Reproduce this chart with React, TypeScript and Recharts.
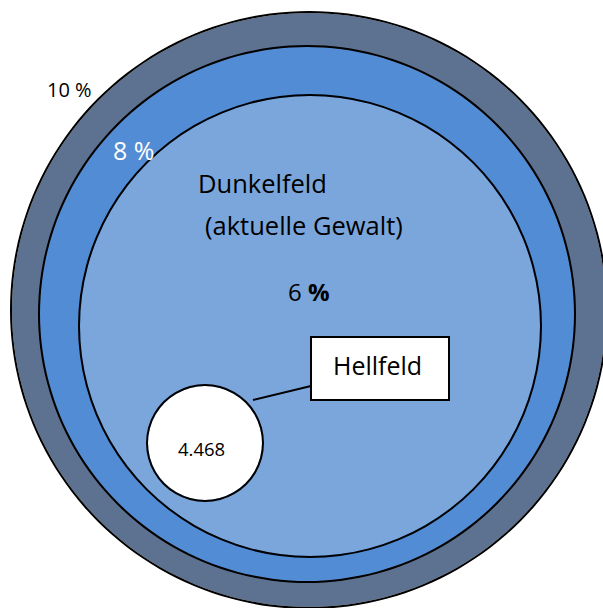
import * as R from "recharts";
import { Cell, Pie, PieChart } from "recharts";

// rings from outside to inside
const ringLabels = ["10 %", "8 %", "6 %"];
const ringShares = [10, 8, 6];
const hellfeldCount = "4.468";
const hellfeldLabel = "Hellfeld";
const dunkelfeldLines = ["Dunkelfeld", "(aktuelle Gewalt)"];

const COLORS = {
  outer: "#5D7290",
  middle: "#528CD5",
  inner: "#7BA6DB",
  hell: "#FFFFFF",
  stroke: "#000000",
};
const FONT = "'Open Sans', 'Noto Sans', sans-serif";

const RINGS = [
  { cx: 309, cy: 310, r: 298, fill: COLORS.outer },
  { cx: 307, cy: 314, r: 268, fill: COLORS.middle },
  { cx: 310, cy: 326, r: 231, fill: COLORS.inner },
  { cx: 205, cy: 443, r: 58, fill: COLORS.hell },
];

// draws on top of the pies (recharts 3 z-index layers)
const Top = (R as any).ZIndexLayer;

function Overlay({ children }: { children: any }) {
  if (Top) return <Top zIndex={5000}>{children}</Top>;
  return <g>{children}</g>;
}

export default function App() {
  const names = [...ringLabels, hellfeldLabel];
  const values = [...ringShares, 1];
  return (
    <div style={{ position: "absolute", left: 0, top: 0, background: "#fff" }}>
      <PieChart width={603} height={608} margin={{ top: 0, right: 0, bottom: 0, left: 0 }}>
        {RINGS.flatMap((ring, i) => [
          <Pie
            key={names[i]}
            data={[{ name: names[i], value: values[i] }]}
            dataKey="value"
            cx={ring.cx}
            cy={ring.cy}
            innerRadius={0}
            outerRadius={ring.r - 1}
            stroke="none"
            isAnimationActive={false}
          >
            <Cell fill={ring.fill} />
          </Pie>,
          <Pie
            key={names[i] + "-edge"}
            data={[{ name: names[i], value: values[i] }]}
            dataKey="value"
            cx={ring.cx}
            cy={ring.cy}
            innerRadius={ring.r - 1}
            outerRadius={ring.r + 1}
            stroke="none"
            isAnimationActive={false}
          >
            <Cell fill={COLORS.stroke} />
          </Pie>,
        ])}

        <Overlay>
          <line x1={253} y1={400} x2={311} y2={386} stroke="#000" strokeWidth={2} />
          <rect x={311} y={337} width={138} height={63} fill="#fff" stroke="#000" strokeWidth={2} />
          <text x={333} y={375} fontFamily={FONT} fontSize={25} fill="#000">
            {hellfeldLabel}
          </text>
          <text x={178} y={456} fontFamily={FONT} fontSize={18.5} fill="#000">
            {hellfeldCount}
          </text>
          <text x={47} y={97} fontFamily={FONT} fontSize={20} fill="#000">
            {ringLabels[0]}
          </text>
          <text x={113} y={160} fontFamily={FONT} fontSize={25} fill="#fff">
            {ringLabels[1]}
          </text>
          <text x={198} y={193} fontFamily={FONT} fontSize={25.5} fill="#000">
            {dunkelfeldLines[0]}
          </text>
          <text x={205} y={235} fontFamily={FONT} fontSize={25.5} fill="#000">
            {dunkelfeldLines[1]}
          </text>
          <text x={288} y={301} fontFamily={FONT} fontSize={24} fill="#000">
            {ringLabels[2].split(" ")[0]}{" "}
            <tspan fontWeight="bold">{ringLabels[2].split(" ")[1]}</tspan>
          </text>
        </Overlay>
      </PieChart>
    </div>
  );
}
